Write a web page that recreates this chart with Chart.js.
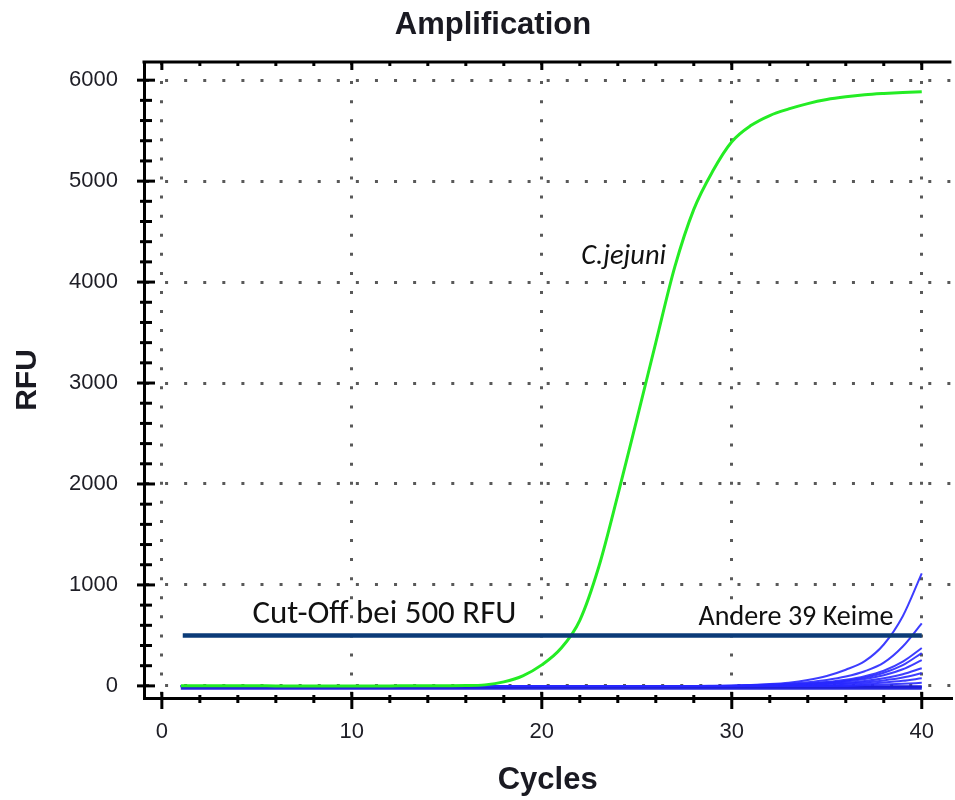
<!DOCTYPE html>
<html><head><meta charset="utf-8">
<script src="https://cdn.jsdelivr.net/npm/chart.js@4.4.0/dist/chart.umd.min.js"></script>
<style>html,body{margin:0;padding:0;background:#fff;overflow:hidden}canvas{display:block}</style>
</head><body>
<canvas id="c" width="955" height="800"></canvas>
<script>
// ---- data ----
const cycles = [1,2,3,4,5,6,7,8,9,10,11,12,13,14,15,16,17,18,19,20,21,22,23,24,25,26,27,28,29,30,31,32,33,34,35,36,37,38,39,40];
const cJejuni = [2,2,1,1,1,0,0,0,0,0,0,0,1,1,2,3,10,40,100,208,370,650,1180,1890,2640,3400,4150,4720,5100,5390,5550,5650,5715,5768,5808,5835,5855,5868,5878,5885];
const keim01 = [0,0,0,0,0,0,0,0,0,0,0,0,0,0,0,0,0,0,0,0,0,0,0,0,0,0,0,0,2,5,10,18,32,58,98,160,245,410,690,1115];
const keim02 = [0,0,0,0,0,0,0,0,0,0,0,0,0,0,0,0,0,0,0,0,0,0,0,0,0,0,0,0,0,2,8,14,22,36,58,92,145,230,390,620];
const keim03 = [0,0,0,0,0,0,0,0,0,0,0,0,0,0,0,0,0,0,0,0,0,0,0,0,0,0,0,0,0,0,5,9,15,24,38,60,95,150,240,375];
const keim04 = [0,0,0,0,0,0,0,0,0,0,0,0,0,0,0,0,0,0,0,0,0,0,0,0,0,0,0,0,0,0,0,8,13,21,33,52,82,130,205,325];
const keim05 = [0,0,0,0,0,0,0,0,0,0,0,0,0,0,0,0,0,0,0,0,0,0,0,0,0,0,0,0,0,0,0,0,10,17,27,43,68,105,165,255];
const keim06 = [0,0,0,0,0,0,0,0,0,0,0,0,0,0,0,0,0,0,0,0,0,0,0,0,0,0,0,0,0,0,0,0,0,12,19,30,48,75,115,175];
const keim07 = [0,0,0,0,0,0,0,0,0,0,0,0,0,0,0,0,0,0,0,0,0,0,0,0,0,0,0,0,0,0,0,0,0,0,14,22,35,54,82,125];
const keim08 = [0,0,0,0,0,0,0,0,0,0,0,0,0,0,0,0,0,0,0,0,0,0,0,0,0,0,0,0,0,0,0,0,0,0,0,13,21,33,50,75];
const keim09 = [0,0,0,0,0,0,0,0,0,0,0,0,0,0,0,0,0,0,0,0,0,0,0,0,0,0,0,0,0,0,0,0,0,0,0,0,8,13,20,30];
const keim10 = [-12,-12,-12,-12,-12,-12,-12,-12,-12,-12,-12,-12,-12,-12,-12,-12,-12,-12,-12,-12,-12,-12,-12,-12,-12,-12,-12,-12,-12,-12,-12,-12,-12,-12,-12,-12,-12,-12,-12,-12];
const keim11 = [-25,-25,-25,-25,-25,-25,-25,-25,-25,-25,-25,-25,-25,-25,-25,-25,-25,-25,-25,-25,-25,-25,-25,-25,-25,-25,-25,-25,-25,-25,-25,-25,-25,-25,-25,-25,-25,-25,-25,-25];
const keim12 = [-5,-5,-5,-5,-5,-5,-5,-5,-5,-5,-5,-5,-5,-5,-5,-5,-5,-5,-5,-5,-5,-5,-5,-5,-5,-5,-5,-5,-5,-5,-5,-5,-5,-5,-5,-5,-5,-5,-5,-5];
const otherKeime = [keim01,keim02,keim03,keim04,keim05,keim06,keim07,keim08,keim09,keim10,keim11,keim12];
const cutoffValue = 500;
const cutoffFrom = 1.1;
const cutoffTo = 40;
const xTickValues = [0,2,4,6,8,10,12,14,16,18,20,22,24,26,28,30,32,34,36,38,40];
const xLabelValues = [0,10,20,30,40];
const yTickValues = [0,200,400,600,800,1000,1200,1400,1600,1800,2000,2200,2400,2600,2800,3000,3200,3400,3600,3800,4000,4200,4400,4600,4800,5000,5200,5400,5600,5800,6000];
const yLabelValues = [0,1000,2000,3000,4000,5000,6000];

// ---- styles ----
const GREEN = '#24ec24';
const BLUE = 'rgba(40,40,255,0.9)';
const BASEBLUE = 'rgba(30,30,220,0.95)';
const NAVY = '#0b3b78';
const GRID = 'rgba(60,60,60,0.85)';
const TXT = '#1e1e26';
const SANS = '"Liberation Sans", Arial, sans-serif';
const NOTE = 'Carlito, Lato, "Open Sans", sans-serif';

const datasets = [];
datasets.push({label:'Cut-Off', data:[{x:cutoffFrom,y:cutoffValue},{x:cutoffTo,y:cutoffValue}], borderColor:NAVY, borderWidth:4.5, pointRadius:0, tension:0});
datasets.push({label:'C.jejuni', data:cJejuni, borderColor:GREEN, borderWidth:3, pointRadius:0, cubicInterpolationMode:'monotone'});
otherKeime.forEach((arr,i)=>datasets.push({label:'Keim '+(i+1), data:arr, borderColor: i>=9 ? BASEBLUE : BLUE, borderWidth: i>=9 ? 2.5 : 2, pointRadius:0, cubicInterpolationMode:'monotone'}));

function fitFont(ctx, text, style, family, targetW){
  ctx.font = style+' 20px '+family;
  const w = ctx.measureText(text).width;
  const size = 20*targetW/w;
  ctx.font = style+' '+size.toFixed(2)+'px '+family;
}

const framePlugin = {
  id:'frame',
  afterDraw(chart){
    const ctx = chart.ctx, a = chart.chartArea, xs = chart.scales.x, ys = chart.scales.y;
    ctx.save();
    ctx.strokeStyle = '#000'; ctx.lineWidth = 3; ctx.lineCap = 'butt';
    ctx.beginPath(); ctx.moveTo(a.left-1.5, a.top); ctx.lineTo(a.right, a.top); ctx.stroke();
    xs.ticks.forEach(t=>{
      const px = xs.getPixelForValue(t.value);
      const major = xLabelValues.includes(t.value);
      ctx.lineWidth = 3;
      ctx.beginPath();
      ctx.moveTo(px, a.bottom - (major?6:3)); ctx.lineTo(px, a.bottom + (major?11:5));
      ctx.moveTo(px, a.top); ctx.lineTo(px, a.top + (major?8:4));
      ctx.stroke();
    });
    ys.ticks.forEach(t=>{
      const py = ys.getPixelForValue(t.value);
      const major = yLabelValues.includes(t.value);
      ctx.lineWidth = 3;
      ctx.beginPath();
      ctx.moveTo(a.left - (major?7:4), py); ctx.lineTo(a.left + (major?11:8), py);
      ctx.stroke();
    });
    ctx.fillStyle = '#1a1a22';
    ctx.textAlign = 'center'; ctx.textBaseline = 'middle';
    ctx.font = 'bold 31px '+SANS;
    ctx.fillText('Amplification', 493, 25);
    ctx.fillStyle = '#111';
    ctx.textAlign = 'left';
    fitFont(ctx, 'Cut-Off bei 500 RFU', '', NOTE, 264);
    ctx.fillText('Cut-Off bei 500 RFU', xs.getPixelForValue(4.77), ys.getPixelForValue(705));
    fitFont(ctx, 'Andere 39 Keime', '', NOTE, 195);
    ctx.fillText('Andere 39 Keime', xs.getPixelForValue(28.25), ys.getPixelForValue(675));
    fitFont(ctx, 'C.jejuni', 'italic', NOTE, 85);
    ctx.fillText('C.jejuni', xs.getPixelForValue(22.07), ys.getPixelForValue(4245));
    ctx.restore();
  }
};

new Chart(document.getElementById('c').getContext('2d'), {
  type:'line',
  data:{labels:cycles, datasets},
  options:{
    responsive:false, animation:false, devicePixelRatio:1,
    layout:{padding:{top:62,left:0,right:0,bottom:0}},
    plugins:{legend:{display:false}, tooltip:{enabled:false}, title:{display:false}},
    scales:{
      x:{
        type:'linear', min:-0.94, max:41.56,
        afterBuildTicks:s=>{ s.ticks = xTickValues.map(v=>({value:v})); },
        afterFit:s=>{ s.height = 102; },
        ticks:{autoSkip:false, maxRotation:0, padding:21, color:TXT, font:{family:SANS, size:22},
          callback:v=> xLabelValues.includes(v) ? String(v) : ''},
        grid:{drawTicks:false, lineWidth:3, color:c=> (c.tick && xLabelValues.includes(c.tick.value)) ? GRID : 'rgba(0,0,0,0)'},
        border:{display:true, color:'#000', width:3, dash:[3,16.08]},
        title:{display:true, text:'Cycles', color:'#1a1a22', font:{family:SANS, size:31, weight:'bold'}, padding:{top:0,bottom:1}}
      },
      y:{
        type:'linear', min:-120, max:6180,
        afterBuildTicks:s=>{ s.ticks = yTickValues.map(v=>({value:v})); },
        afterFit:s=>{ s.width = 144; },
        ticks:{autoSkip:false, padding:26, color:TXT, font:{family:SANS, size:22},
          callback:v=> yLabelValues.includes(v) ? String(v) : ''},
        grid:{drawTicks:false, lineWidth:3, color:c=> (c.tick && yLabelValues.includes(c.tick.value)) ? GRID : 'rgba(0,0,0,0)'},
        border:{display:true, color:'#000', width:3, dash:[3,16.08]},
        title:{display:true, text:'RFU', color:'#1a1a22', font:{family:SANS, size:30, weight:'bold'}, padding:{top:10,bottom:0}}
      }
    }
  },
  plugins:[framePlugin]
});
</script>
</body></html>
